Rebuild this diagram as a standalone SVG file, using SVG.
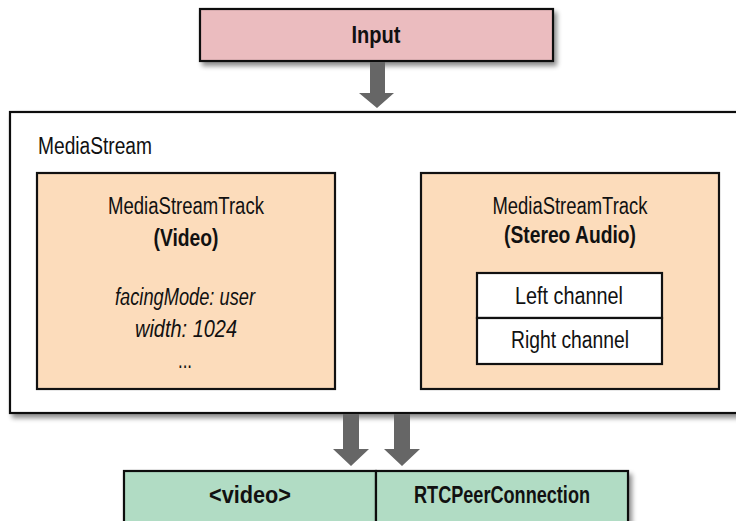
<svg xmlns="http://www.w3.org/2000/svg" width="736" height="521" viewBox="0 0 736 521">
  <defs>
    <filter id="shadow" x="-5%" y="-10%" width="115%" height="130%">
      <feGaussianBlur in="SourceAlpha" stdDeviation="2.5"/>
      <feOffset dx="3" dy="4" result="blur"/>
      <feComponentTransfer><feFuncA type="linear" slope="0.45"/></feComponentTransfer>
      <feMerge><feMergeNode/><feMergeNode in="SourceGraphic"/></feMerge>
    </filter>
  </defs>
  <style>
    .box { stroke: #111; stroke-width: 2.2; }
    .input { fill: #ebbcbf; }
    .stream { fill: #ffffff; }
    .track { fill: #fcdcbb; }
    .chan { fill: #ffffff; }
    .out { fill: #b1dcc4; }
    .arrow { fill: #666666; }
    /* condensed look: glyphs are squeezed to fixed run lengths */
    text { font-family: "Liberation Sans", Arial, sans-serif; fill: #111; font-size: 23.5px; }
    .c { text-anchor: middle; }
    .b { font-weight: bold; }
    .i { font-style: italic; }
  </style>

  <g id="input">
    <rect class="box input" x="200" y="9" width="353" height="52" filter="url(#shadow)"/>
    <text class="c b" x="376" y="43" textLength="49" lengthAdjust="spacingAndGlyphs">Input</text>
  </g>

  <g id="mediastream">
    <rect class="box stream" x="10" y="112" width="740" height="301" filter="url(#shadow)"/>
    <text x="38" y="154" textLength="114" lengthAdjust="spacingAndGlyphs">MediaStream</text>
  </g>

  <g id="video-track">
    <rect class="box track" x="37" y="173" width="298" height="216"/>
    <text class="c" x="186" y="214" textLength="156" lengthAdjust="spacingAndGlyphs">MediaStreamTrack</text>
    <text class="c b" x="186" y="246" textLength="65" lengthAdjust="spacingAndGlyphs">(Video)</text>
    <text class="c i" x="185" y="305" textLength="140" lengthAdjust="spacingAndGlyphs">facingMode: user</text>
    <text class="c i" x="186" y="337" textLength="102" lengthAdjust="spacingAndGlyphs">width: 1024</text>
    <text class="c" x="185" y="368" textLength="14" lengthAdjust="spacingAndGlyphs">...</text>
  </g>

  <g id="audio-track">
    <rect class="box track" x="421" y="173" width="298" height="216"/>
    <text class="c" x="570" y="214" textLength="155" lengthAdjust="spacingAndGlyphs">MediaStreamTrack</text>
    <text class="c b" x="570" y="243" textLength="132" lengthAdjust="spacingAndGlyphs">(Stereo Audio)</text>
  </g>

  <g id="left-channel">
    <rect class="box chan" x="477" y="273" width="185" height="45"/>
    <text class="c" x="569" y="304" textLength="108" lengthAdjust="spacingAndGlyphs">Left channel</text>
  </g>

  <g id="right-channel">
    <rect class="box chan" x="477" y="318" width="185" height="46"/>
    <text class="c" x="570" y="348" textLength="118" lengthAdjust="spacingAndGlyphs">Right channel</text>
  </g>

  <g id="video-element">
    <rect class="box out" x="124" y="471" width="252" height="70" filter="url(#shadow)"/>
    <text class="c b" x="250" y="503" textLength="82" lengthAdjust="spacingAndGlyphs">&lt;video&gt;</text>
  </g>

  <g id="peer-connection">
    <rect class="box out" x="376" y="471" width="252" height="70" filter="url(#shadow)"/>
    <text class="c b" x="502" y="503" textLength="176" lengthAdjust="spacingAndGlyphs">RTCPeerConnection</text>
  </g>

  <g id="connectors">
    <path class="arrow" d="M370 62 H385 V93 H394 L377 108 L359 93 H370 Z"/>
    <path class="arrow" d="M343 414 H359 V449 H369 L351 466 L333 449 H343 Z"/>
    <path class="arrow" d="M394 414 H410 V449 H420 L402 466 L384 449 H394 Z"/>
  </g>
</svg>
